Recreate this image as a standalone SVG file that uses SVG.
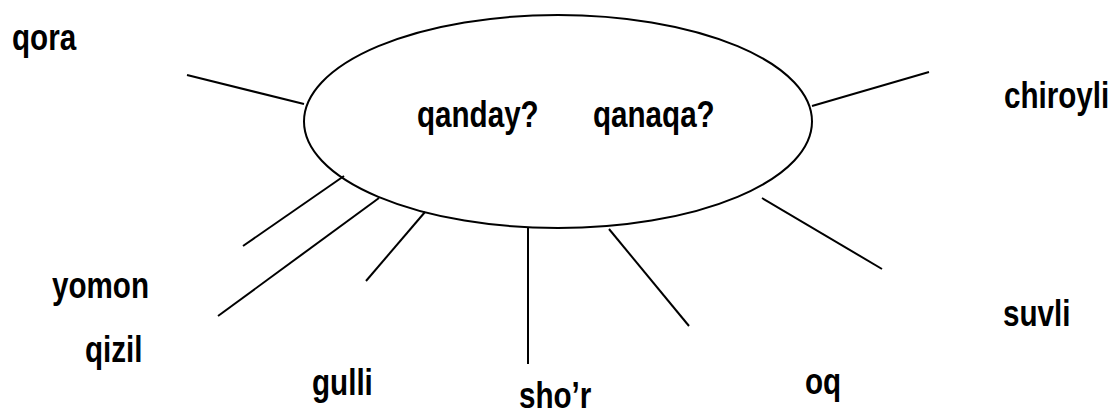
<svg xmlns="http://www.w3.org/2000/svg" width="1120" height="412" viewBox="0 0 1120 412">
<style>
  .lbl { font-family: "Liberation Sans", Arial, sans-serif; font-weight: bold; font-size: 37px; fill: #000; }
  .conn line { stroke: #000; stroke-width: 2; }
  .oval { fill: #fff; stroke: #000; stroke-width: 2; }
</style>
<rect width="1120" height="412" fill="#fff"/>
<g id="center">
  <ellipse class="oval" cx="558" cy="121.5" rx="254" ry="106.5"/>
  <text class="lbl" transform="translate(417,127) scale(0.8,1)">qanday?</text>
  <text class="lbl" transform="translate(593,127) scale(0.8,1)">qanaqa?</text>
</g>
<g id="connectors" class="conn">
  <line x1="187" y1="75" x2="304" y2="104"/>
  <line x1="812" y1="106" x2="929" y2="72"/>
  <line x1="243" y1="246" x2="344" y2="176"/>
  <line x1="218" y1="316" x2="379" y2="198"/>
  <line x1="366" y1="281" x2="425" y2="212"/>
  <line x1="528" y1="228" x2="528" y2="364"/>
  <line x1="609" y1="229" x2="689" y2="326"/>
  <line x1="762" y1="198" x2="882" y2="269"/>
</g>
<g id="qora"><text class="lbl" transform="translate(12,50) scale(0.8,1)">qora</text></g>
<g id="chiroyli"><text class="lbl" transform="translate(1004,108) scale(0.8,1)">chiroyli</text></g>
<g id="yomon"><text class="lbl" transform="translate(52,298) scale(0.8,1)">yomon</text></g>
<g id="qizil"><text class="lbl" transform="translate(85,362) scale(0.8,1)">qizil</text></g>
<g id="gulli"><text class="lbl" transform="translate(312,395) scale(0.8,1)">gulli</text></g>
<g id="shor"><text class="lbl" transform="translate(519,408) scale(0.8,1)">sho’r</text></g>
<g id="oq"><text class="lbl" transform="translate(805,394) scale(0.8,1)">oq</text></g>
<g id="suvli"><text class="lbl" transform="translate(1003,326) scale(0.8,1)">suvli</text></g>
</svg>
